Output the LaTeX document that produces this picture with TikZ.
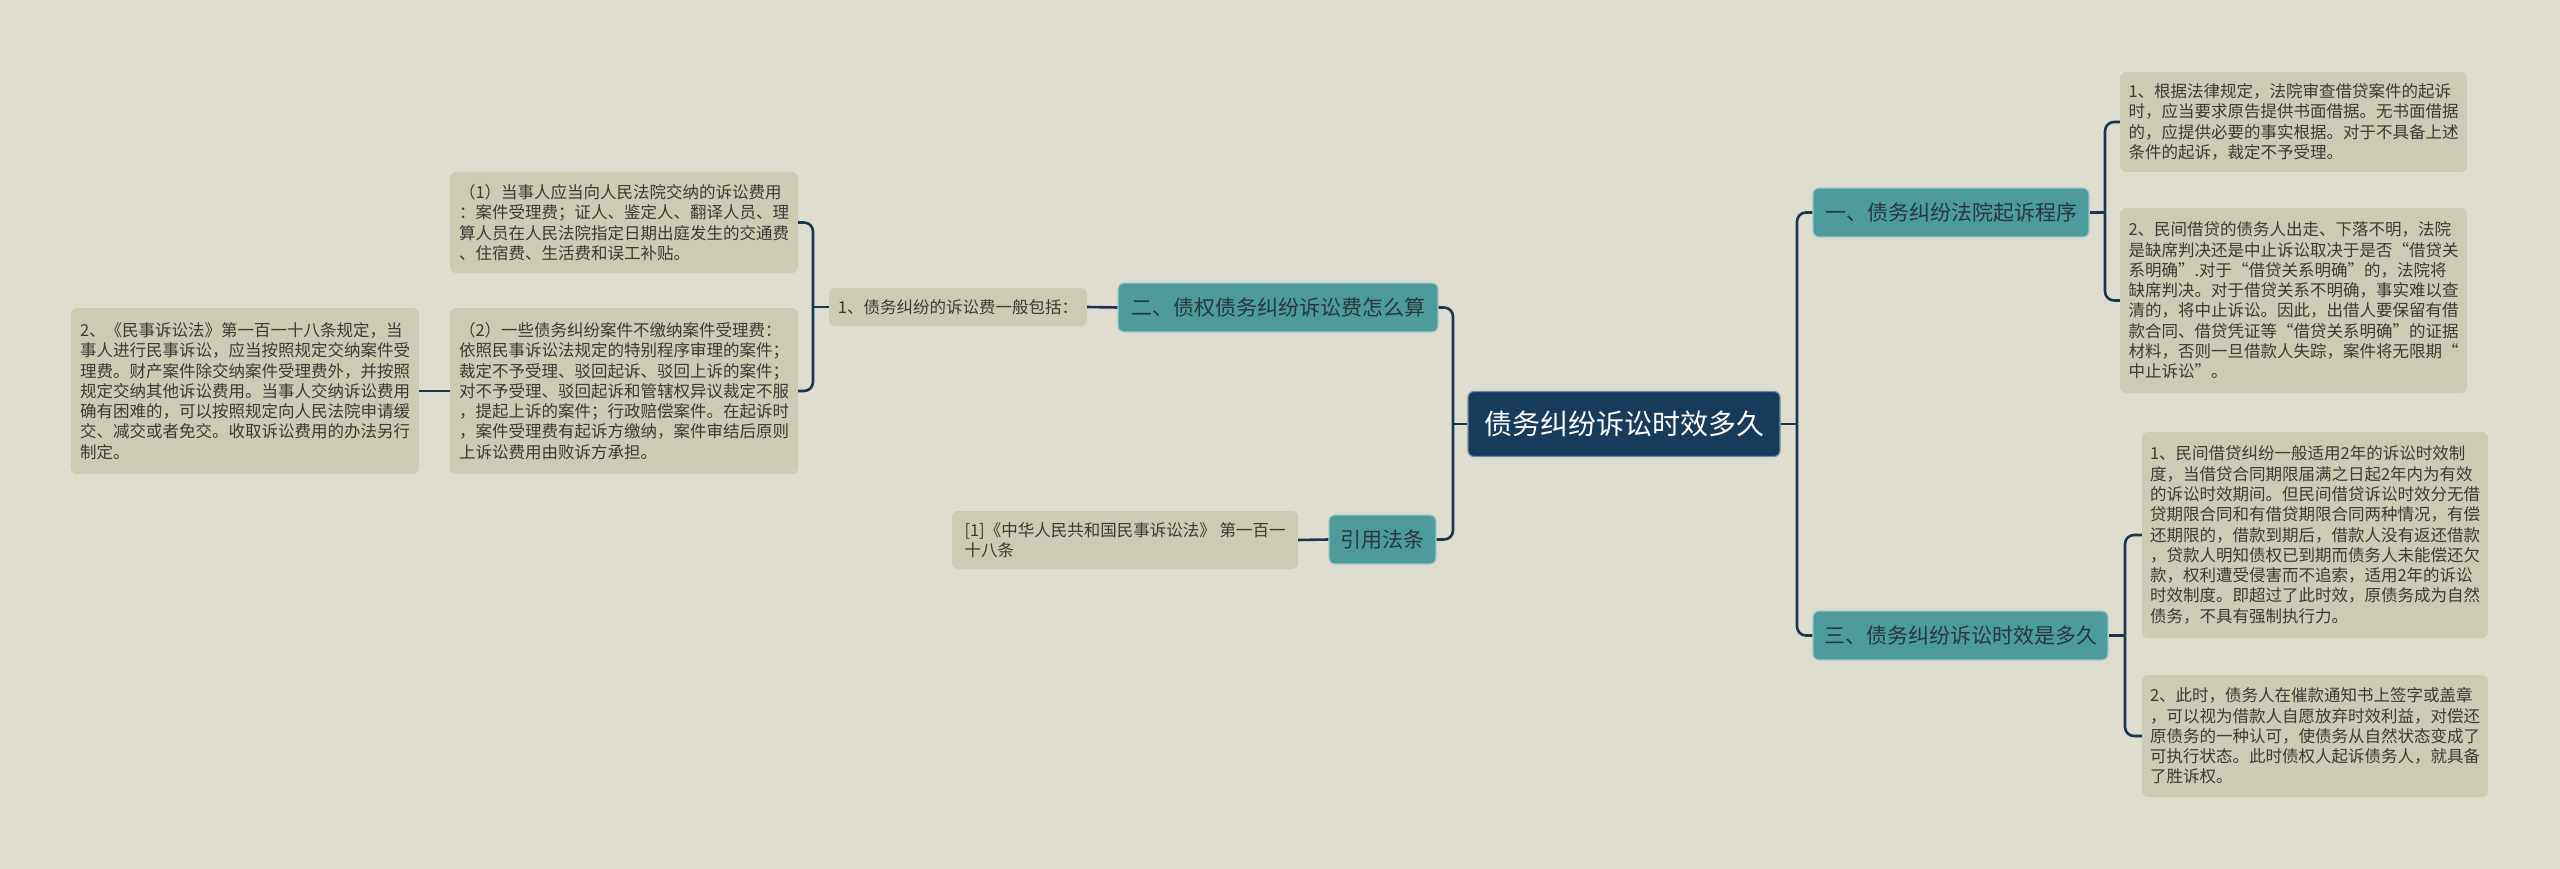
\documentclass[tikz,border=0pt]{standalone}
\usepackage{fontspec}
\newfontfamily\cjk{Noto Sans CJK SC}
\definecolor{bgc}{HTML}{DFDDD0}
\definecolor{leafc}{HTML}{CECBB4}
\definecolor{txtc}{HTML}{3A3A36}
\definecolor{tealc}{HTML}{4E9B9B}
\definecolor{tealb}{HTML}{9CCAC6}
\definecolor{btxt}{HTML}{26383C}
\definecolor{navyc}{HTML}{173B5A}
\definecolor{navyb}{HTML}{6F8BA0}
\definecolor{linec}{HTML}{1A3550}
\begin{document}
\begin{tikzpicture}[x=1pt,y=-1pt,
  leaf/.style={fill=leafc, rounded corners=6pt, align=left, text=txtc, inner sep=0pt,
    font=\cjk\fontsize{16.5}{20.3}\selectfont},
  branch/.style={fill=tealc, draw=tealb, line width=1.2pt, rounded corners=6pt, text=btxt,
    inner sep=0pt, minimum height=49pt, font=\cjk\fontsize{21}{25}\selectfont},
  rootbox/.style={fill=navyc, draw=navyb, line width=1.2pt, rounded corners=6pt, text=white,
    inner sep=0pt, minimum height=65pt, minimum width=312pt, font=\cjk\fontsize{28}{32}\selectfont},
  conn/.style={draw=linec, line width=2.6pt, rounded corners=9pt}]
\useasboundingbox[fill=bgc] (0,0) rectangle (2560,869);

% root
\node[rootbox] (root) at (1624,424) {债务纠纷诉讼时效多久};

% right branches
\node[branch, minimum width=276pt] (b1) at (1951,212.5) {一、债务纠纷法院起诉程序};
\node[branch, minimum width=295pt] (b3) at (1960.5,635.5) {三、债务纠纷诉讼时效是多久};

% left branches
\node[branch, minimum width=320pt] (b2) at (1278,307.5) {二、债权债务纠纷诉讼费怎么算};
\node[branch, minimum width=107pt] (bref) at (1382.5,539.5) {引用法条};

% right leaves
\node[leaf, minimum width=347pt, minimum height=100pt] (r1) at (2293.5,122) {1、根据法律规定，法院审查借贷案件的起诉\\时，应当要求原告提供书面借据。无书面借据\\的，应提供必要的事实根据。对于不具备上述\\条件的起诉，裁定不予受理。};
\node[leaf, minimum width=347pt, minimum height=185pt] (r2) at (2293.5,300.5) {2、民间借贷的债务人出走、下落不明，法院\\是缺席判决还是中止诉讼取决于是否“借贷关\\系明确”.对于“借贷关系明确”的，法院将\\缺席判决。对于借贷关系不明确，事实难以查\\清的，将中止诉讼。因此，出借人要保留有借\\款合同、借贷凭证等“借贷关系明确”的证据\\材料，否则一旦借款人失踪，案件将无限期“\\中止诉讼”。};
\node[leaf, minimum width=346pt, minimum height=206pt] (r3) at (2315,535) {1、民间借贷纠纷一般适用2年的诉讼时效制\\度，当借贷合同期限届满之日起2年内为有效\\的诉讼时效期间。但民间借贷诉讼时效分无借\\贷期限合同和有借贷期限合同两种情况，有偿\\还期限的，借款到期后，借款人没有返还借款\\，贷款人明知债权已到期而债务人未能偿还欠\\款，权利遭受侵害而不追索，适用2年的诉讼\\时效制度。即超过了此时效，原债务成为自然\\债务，不具有强制执行力。};
\node[leaf, minimum width=346pt, minimum height=122pt] (r4) at (2315,736) {2、此时，债务人在催款通知书上签字或盖章\\，可以视为借款人自愿放弃时效利益，对偿还\\原债务的一种认可，使债务从自然状态变成了\\可执行状态。此时债权人起诉债务人，就具备\\了胜诉权。};

% left leaves
\node[leaf, minimum width=258pt, minimum height=38pt] (fee) at (958,307) {1、债务纠纷的诉讼费一般包括：};
\node[leaf, minimum width=348pt, minimum height=101pt] (l1) at (624,222.5) {（1）当事人应当向人民法院交纳的诉讼费用\\：案件受理费；证人、鉴定人、翻译人员、理\\算人员在人民法院指定日期出庭发生的交通费\\、住宿费、生活费和误工补贴。};
\node[leaf, minimum width=348pt, minimum height=166pt] (l2) at (624,391) {（2）一些债务纠纷案件不缴纳案件受理费：\\依照民事诉讼法规定的特别程序审理的案件；\\裁定不予受理、驳回起诉、驳回上诉的案件；\\对不予受理、驳回起诉和管辖权异议裁定不服\\，提起上诉的案件；行政赔偿案件。在起诉时\\，案件受理费有起诉方缴纳，案件审结后原则\\上诉讼费用由败诉方承担。};
\node[leaf, minimum width=348pt, minimum height=166pt] (ll) at (245,391) {2、《民事诉讼法》第一百一十八条规定，当\\事人进行民事诉讼，应当按照规定交纳案件受\\理费。财产案件除交纳案件受理费外，并按照\\规定交纳其他诉讼费用。当事人交纳诉讼费用\\确有困难的，可以按照规定向人民法院申请缓\\交、减交或者免交。收取诉讼费用的办法另行\\制定。};
\node[leaf, minimum width=346pt, minimum height=58pt] (ref) at (1125,540) {[1]《中华人民共和国民事诉讼法》 第一百一\\十八条};

% junctions
\coordinate (jR) at (1797,424);
\coordinate (jL) at (1453,424);
\coordinate (j1) at (2105,212.5);
\coordinate (j3) at (2125,635.5);
\coordinate (jF) at (813,307);

% connectors
\draw[conn] (root.east) -- (jR);
\draw[conn] (jR) |- (b1.west);
\draw[conn] (jR) |- (b3.west);
\draw[conn] (root.west) -- (jL);
\draw[conn] (jL) |- (b2.east);
\draw[conn] (jL) |- (bref.east);
\draw[conn] (b1.east) -- (j1);
\draw[conn] (j1) |- (r1.west);
\draw[conn] (j1) |- (r2.west);
\draw[conn] (b3.east) -- (j3);
\draw[conn] (j3) |- (r3.west);
\draw[conn] (j3) |- (r4.west);
\draw[conn] (b2.west) -- (fee.east);
\draw[conn] (fee.west) -- (jF);
\draw[conn] (jF) |- (l1.east);
\draw[conn] (jF) |- (l2.east);
\draw[conn] (l2.west) -- (ll.east);
\draw[conn] (bref.west) -- (ref.east);
\end{tikzpicture}
\end{document}
